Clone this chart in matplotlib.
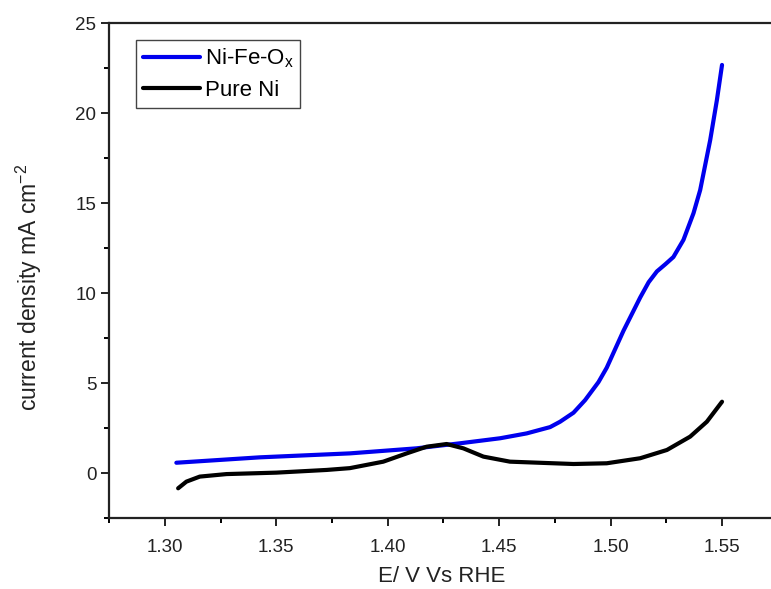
import numpy as np
import matplotlib.pyplot as plt

plt.rcParams['font.family'] = ['Liberation Sans', 'DejaVu Sans']
plt.rcParams['mathtext.fontset'] = 'custom'
plt.rcParams['mathtext.rm'] = 'Liberation Sans'

# Ni-Fe-Ox polarisation curve
e_nife = [1.3052, 1.3426, 1.3830, 1.4129, 1.4324, 1.4504, 1.4623, 1.4728, 1.4773,
          1.4833, 1.4885, 1.4945, 1.4982, 1.5057, 1.5132, 1.5170, 1.5207, 1.5245,
          1.5281, 1.5326, 1.5371, 1.5401, 1.5446, 1.5476, 1.5499]
j_nife = [0.57, 0.87, 1.09, 1.37, 1.65, 1.93, 2.20, 2.55, 2.85,
          3.35, 4.05, 5.05, 5.85, 7.90, 9.75, 10.60, 11.20, 11.60,
          12.00, 12.95, 14.43, 15.72, 18.50, 20.72, 22.67]

# Pure Ni curve
e_ni = [1.3060, 1.3097, 1.3157, 1.3277, 1.3500, 1.3726, 1.3830, 1.3980, 1.4085,
        1.4174, 1.4264, 1.4339, 1.4429, 1.4548, 1.4700, 1.4833, 1.4982, 1.5132,
        1.5252, 1.5356, 1.5431, 1.5499]
j_ni = [-0.85, -0.48, -0.20, -0.06, 0.02, 0.17, 0.27, 0.63, 1.09,
        1.46, 1.61, 1.37, 0.91, 0.63, 0.56, 0.50, 0.54, 0.82,
        1.28, 2.02, 2.85, 3.96]

fig = plt.figure(figsize=(7.71, 5.89), dpi=100)
ax = fig.add_axes([109 / 771, 71 / 589, 669 / 771, 495 / 589])

ax.plot(e_nife, j_nife, color='#0000ee', lw=3, label='Ni-Fe-O$_\\mathregular{x}$',
        solid_capstyle='round', solid_joinstyle='round')
ax.plot(e_ni, j_ni, color='black', lw=3, label='Pure Ni',
        solid_capstyle='round', solid_joinstyle='round')

ax.set_xlim(1.275, 1.575)
ax.set_ylim(-2.5, 25)
ax.set_xticks([1.30, 1.35, 1.40, 1.45, 1.50, 1.55])
ax.set_xticks(np.arange(1.275, 1.58, 0.025), minor=True)
ax.set_yticks([0, 5, 10, 15, 20, 25])
ax.set_yticks(np.arange(-2.5, 25.1, 2.5), minor=True)
ax.xaxis.set_major_formatter(plt.FormatStrFormatter('%.2f'))

ax.tick_params(which='major', direction='out', length=6, width=1.4, labelsize=13.5,
               colors='#222222', pad=3)
ax.tick_params(axis='x', which='major', pad=9)
ax.tick_params(which='minor', direction='out', length=3.5, width=1.4)
ax.tick_params(axis='x', which='both', top=False)
for s in ['left', 'bottom', 'top']:
    ax.spines[s].set_linewidth(1.6)
    ax.spines[s].set_color('#222222')
ax.spines['right'].set_visible(False)

ax.set_xlabel('E/ V Vs RHE', fontsize=16, color='#222222')
ax.set_ylabel('current density mA cm$^\\mathregular{-2}$', fontsize=16.5, color='#222222')
ax.xaxis.set_label_coords((442 - 109) / 669, -(566 - 518) / 495)
ax.yaxis.set_label_coords(-(109 - 44) / 669, (518 - 287) / 495)

leg = ax.legend(loc='upper left', bbox_to_anchor=(27 / 669, 1 - 17 / 495), fontsize=16,
                handlelength=2.6, handletextpad=0.2, borderpad=0.3, labelspacing=0.45,
                borderaxespad=0, fancybox=False, framealpha=1, edgecolor='#444444')
leg.get_frame().set_linewidth(1.0)

fig.savefig('out.png', dpi=100)
